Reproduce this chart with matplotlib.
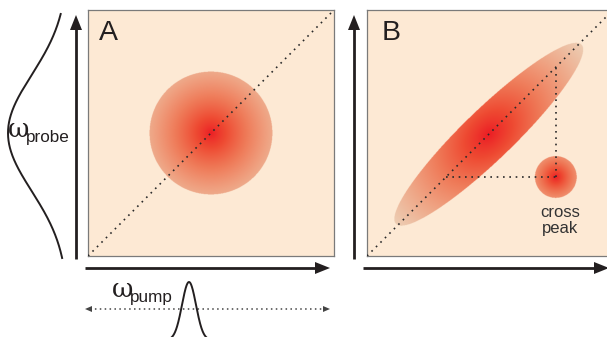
import numpy as np
import matplotlib
matplotlib.use("Agg")
import matplotlib.pyplot as plt
from matplotlib.colors import LinearSegmentedColormap
from matplotlib.patches import Polygon

# ---------------- data ----------------
# panel coordinates are normalised frequency units 0..1 (omega_pump, omega_probe)
panel_labels = ["A", "B"]
diagonal = [0.0, 1.0]

peakA_center = (0.50, 0.50)
peakA_radius = 0.25

peakB_center = (0.495, 0.495)
peakB_semi_axes = (0.525, 0.103)
peakB_angle = 44.0

cross_center = (0.768, 0.321)
cross_radius = 0.085
cross_label = "cross\npeak"

# laser spectra (Gaussian profiles): centre, sigma, amplitude, baseline (pixels)
probe_spectrum = dict(center=133.0, sigma=58.0, amp=60.0, base=68.0, span=(14.0, 258.0))
pump_spectrum = dict(center=189.0, sigma=7.0, amp=58.0, base=340.0, span=(166.0, 212.0))

probe_label = ("\u03c9", "probe")
pump_label = ("\u03c9", "pump")

# ---------------- styling ----------------
W, H = 607, 337
BG = "#FDE9D4"
INK = "#231F20"
cmap = LinearSegmentedColormap.from_list(
    "peak", ["#EC1C24", "#EE4A32", "#EF7A58", "#EFA585", "#EDCDB3"])

fig = plt.figure(figsize=(W / 100, H / 100), dpi=100)

def panel_axes(left_px):
    a = fig.add_axes([left_px / W, (H - 256) / H, 246 / W, 246 / H])
    a.set_xlim(0, 1)
    a.set_ylim(0, 1)
    a.set_facecolor(BG)
    a.set_xticks([])
    a.set_yticks([])
    for s in a.spines.values():
        s.set_color("#7a7a7a")
        s.set_linewidth(0.9)
    return a

def blob(a, center, semi, angle, k_along=1.0, k_across=1.0, fade=1.0, gamma=1.0):
    n = 700
    g = np.linspace(0, 1, n)
    X, Y = np.meshgrid(g, g)
    th = np.deg2rad(angle)
    dx, dy = X - center[0], Y - center[1]
    u = dx * np.cos(th) + dy * np.sin(th)
    v = -dx * np.sin(th) + dy * np.cos(th)
    inside = (u / semi[0]) ** 2 + (v / semi[1]) ** 2 <= 1.0
    t = np.sqrt((u / (semi[0] * k_along)) ** 2 + (v / (semi[1] * k_across)) ** 2)
    t = np.clip(t, 0, 1) ** gamma * fade
    rgba = cmap(t)
    rgba[..., 3] = inside.astype(float)
    a.imshow(rgba, extent=(0, 1, 0, 1), origin="lower", aspect="auto",
             interpolation="antialiased", zorder=1)

dot_style = dict(color="#2a2a2a", lw=1.2, linestyle=(0, (1, 2.8)), zorder=3)

# ---- panel A ----
axA = panel_axes(88)
blob(axA, peakA_center, (peakA_radius, peakA_radius), 0, fade=0.78, gamma=0.8)
axA.plot(diagonal, diagonal, **dot_style)
axA.set_xlim(0, 1); axA.set_ylim(0, 1)

# ---- panel B ----
axB = panel_axes(367)
blob(axB, peakB_center, peakB_semi_axes, peakB_angle, k_across=3.5, fade=1.0, gamma=0.9)
blob(axB, cross_center, (cross_radius, cross_radius), 0, fade=0.62, gamma=0.8)
axB.plot(diagonal, diagonal, **dot_style)
axB.plot([cross_center[0], cross_center[0]], [cross_center[1], cross_center[0]], **dot_style)
axB.plot([cross_center[1], cross_center[0]], [cross_center[1], cross_center[1]], **dot_style)
axB.set_xlim(0, 1); axB.set_ylim(0, 1)

# ---- overlay (on top of panels) ----
ov = fig.add_axes([0, 0, 1, 1])
ov.set_xlim(0, W)
ov.set_ylim(H, 0)
ov.axis("off")
ov.patch.set_alpha(0)
ov.set_zorder(10)

ov.text(99, 40, panel_labels[0], fontsize=20.5, color=INK, family="Liberation Sans",
        ha="left", va="baseline")
ov.text(382, 40, panel_labels[1], fontsize=20.5, color=INK, family="Liberation Sans",
        ha="left", va="baseline")
ov.text(560, 233, cross_label, fontsize=12, color="#333333",
        family="Liberation Sans", ha="center", va="baseline", linespacing=1.05)

# arrows
def arrow(x0, y0, x1, y1, lw=2.0, hl=15.0, hw=6.0, color=INK):
    d = np.array([x1 - x0, y1 - y0], float)
    L = np.hypot(*d)
    e = d / L
    nrm = np.array([-e[1], e[0]])
    base = np.array([x1, y1]) - e * hl
    ov.plot([x0, base[0] + e[0] * 2], [y0, base[1] + e[1] * 2], color=color, lw=lw,
            solid_capstyle="butt")
    tri = [[x1, y1], base + nrm * hw, base - nrm * hw]
    ov.add_patch(Polygon(tri, closed=True, facecolor=color, edgecolor="none"))

arrow(76, 259, 76, 15)
arrow(85, 268, 330, 268)
arrow(354, 259, 354, 15)
arrow(363, 268, 609, 268)

# pump double arrow (dotted)
ov.plot([90, 325], [309, 309], color="#444444", lw=1.1, linestyle=(0, (1, 2.2)))
for xt, xb in [(85, 92), (330, 323)]:
    ov.add_patch(Polygon([[xt, 309], [xb, 306], [xb, 312]], closed=True,
                         facecolor="#444444", edgecolor="none"))

# probe spectrum (vertical Gaussian)
p = probe_spectrum
yy = np.linspace(p["span"][0], p["span"][1], 400)
xx = p["base"] - p["amp"] * np.exp(-(yy - p["center"]) ** 2 / (2 * p["sigma"] ** 2))
ov.plot(xx, yy, color=INK, lw=1.4)

# pump spectrum (horizontal Gaussian)
q = pump_spectrum
xq = np.linspace(q["span"][0], q["span"][1], 300)
yq = q["base"] - q["amp"] * np.exp(-(xq - q["center"]) ** 2 / (2 * q["sigma"] ** 2))
ov.plot(xq, yq, color=INK, lw=1.4)

# omega labels
ov.text(8, 137, probe_label[0], fontsize=19, family="DejaVu Serif", color=INK,
        ha="left", va="baseline")
ov.text(26, 142, probe_label[1], fontsize=12.3, family="Liberation Sans", color=INK,
        ha="left", va="baseline")
ov.text(112, 297, pump_label[0], fontsize=19, family="DejaVu Serif", color=INK,
        ha="left", va="baseline")
ov.text(130, 302, pump_label[1], fontsize=12.3, family="Liberation Sans", color=INK,
        ha="left", va="baseline")

fig.savefig("out.png", dpi=100)
